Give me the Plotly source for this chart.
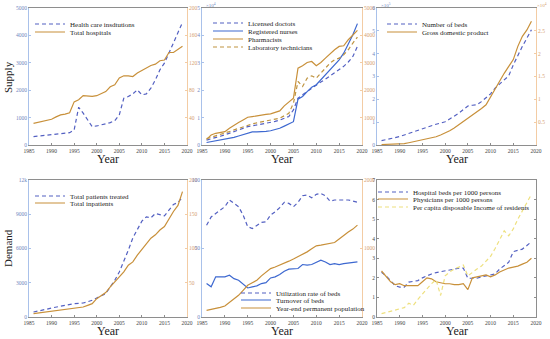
import plotly.graph_objects as go

# ---------------- data ----------------
years = list(range(1986, 2020))

# Panel 1: supply
health_care_institutions = [305, 320, 335, 350, 366, 380, 400, 425, 450, 550, 1378, 1160, 900, 670, 695,
                            730, 770, 817, 890, 1100, 1707, 1768, 1866, 2012, 1830, 1866, 2073, 2378,
                            2744, 2988, 3354, 3720, 4085, 4475]
total_hospitals = [31.7, 33, 35, 35.6, 37.6, 41, 44, 45, 47, 63, 66, 72, 71.5, 71, 72,
                   75, 78, 85, 88, 98, 101, 101, 100, 105, 109, 112, 116, 118,
                   123, 124, 135, 135, 139, 144]

# Panel 2
licensed_doctors = [0.18, 0.22, 0.27, 0.32, 0.37, 0.43, 0.49, 0.55, 0.61, 0.67, 0.70, 0.73, 0.76, 0.79, 0.82,
                    0.86, 0.91, 0.97, 1.04, 1.28, 1.71, 1.83, 1.95, 2.07, 2.2, 2.3, 2.4, 2.51,
                    2.62, 2.74, 2.87, 3.03, 3.23, 3.6]
registered_nurses = [0.09, 0.12, 0.15, 0.18, 0.21, 0.25, 0.28, 0.33, 0.38, 0.43, 0.48, 0.48, 0.48, 0.50, 0.52,
                     0.56, 0.61, 0.69, 0.77, 0.85, 1.67, 1.77, 1.95, 2.11, 2.2, 2.38, 2.56, 2.74,
                     2.93, 3.11, 3.35, 3.66, 4.02, 4.43]
pharmacists = [207, 366, 427, 460, 488, 610, 731, 820, 915, 1012, 1037, 1070, 1098, 1115, 1134,
               1190, 1244, 1427, 1585, 1707, 2805, 2890, 3012, 3049, 2890, 3012, 3171, 3329,
               3475, 3598, 3622, 3841, 4024, 4183]
lab_technicians = [232, 280, 330, 380, 427, 490, 550, 610, 670, 731, 770, 810, 850, 880, 915,
                   945, 976, 1060, 1159, 1524, 2317, 2134, 2439, 2524, 2439, 2622, 2805, 2988,
                   3110, 3171, 3293, 3476, 3720, 3939]

# Panel 3
number_of_beds = [0.19, 0.23, 0.28, 0.32, 0.37, 0.44, 0.51, 0.59, 0.66, 0.73, 0.79, 0.85, 0.91, 0.96, 1.02,
                  1.14, 1.26, 1.39, 1.55, 1.71, 1.74, 1.76, 1.9, 2.05, 2.24, 2.49, 2.68, 2.85,
                  3.03, 3.51, 3.95, 4.32, 4.68, 5.05]
gdp = [0.01, 0.012, 0.015, 0.018, 0.02, 0.03, 0.05, 0.07, 0.09, 0.11, 0.13, 0.15, 0.18, 0.22, 0.26,
       0.31, 0.37, 0.44, 0.51, 0.58, 0.66, 0.73, 0.80, 0.88, 1.06, 1.24, 1.39, 1.57,
       1.72, 1.87, 2.16, 2.38, 2.52, 2.71]

# Panel 4: demand
total_patients_treated = [439, 510, 585, 690, 790, 870, 950, 1023, 1100, 1170, 1200, 1228, 1340, 1462, 1667,
                          1842, 2047, 2632, 3216, 3947, 4825, 5848, 6930, 7602, 8392, 8772, 8684, 9064,
                          8977, 8860, 9357, 9855, 10030, 10500]
total_inpatients = [4.9, 5.8, 6.7, 7.5, 8.3, 9.0, 9.8, 10.8, 11.4, 12, 13.2, 14.6, 17, 19.5, 26.8,
                    30.7, 35.6, 43.9, 51.2, 58.5, 65.9, 75.6, 80.5, 90.2, 98.5, 107, 115, 120,
                    127, 132, 144, 154, 163, 183]

# Panel 5
utilization_rate = [67, 73, 75.6, 78, 80.5, 85.4, 82.9, 80.5, 74.4, 65.9, 64.6, 67, 69, 69.5, 74.4,
                    76.8, 79.8, 83.7, 82.9, 80.5, 83.7, 88.5, 89, 87, 89.5, 90.2, 88.5, 84.6,
                    85.4, 85.4, 85.4, 85.4, 84.6, 83.7]
turnover_of_beds = [24.4, 22, 29.3, 29.3, 29.3, 30.5, 28, 26.8, 23.7, 21.2, 22, 22.7, 24.4, 25.1, 28.5,
                    29.3, 31, 33.4, 34.9, 34.9, 35.4, 38.3, 37.8, 38.3, 40.2, 41.5, 40.2, 38.3,
                    39, 38.3, 39, 39.5, 39.8, 40.2]
population = [98, 110, 122, 140, 161, 210, 268, 317, 390, 463, 500, 537, 600, 659, 707,
              730, 756, 785, 815, 846, 878, 915, 951, 995, 1039, 1049, 1059, 1073,
              1088, 1140, 1195, 1240, 1283, 1341]

# Panel 6
beds_per_1000 = [2.29, 2.1, 1.86, 1.6, 1.53, 1.53, 1.78, 1.82, 1.86, 2.0, 2.12, 2.2, 2.27, 2.32, 2.37,
                 2.42, 2.46, 2.49, 2.5, 1.98, 1.98, 1.98, 2.05, 2.1, 2.15, 2.2, 2.45, 2.63,
                 2.8, 3.34, 3.4, 3.47, 3.65, 3.85]
physicians_per_1000 = [2.35, 2.1, 1.8, 1.65, 1.7, 1.6, 1.6, 1.6, 1.6, 1.8, 2.0, 1.95, 1.8, 1.75, 1.7,
                       1.7, 1.65, 1.65, 1.7, 1.4, 2.0, 2.05, 2.1, 2.15, 2.05, 2.15, 2.3, 2.4,
                       2.5, 2.55, 2.6, 2.7, 2.8, 3.0]
disposable_income = [0.17, 0.22, 0.3, 0.35, 0.42, 0.48, 0.7, 0.6, 0.9, 1.2, 1.44, 1.7, 1.9, 1.1, 2.1,
                     2.3, 2.45, 2.55, 2.66, 2.1, 2.3, 2.45, 2.6, 2.85, 3.1, 3.5, 3.95, 4.4,
                     4.15, 4.5, 5.0, 5.4, 5.85, 6.27]

year_ticks = [1985, 1990, 1995, 2000, 2005, 2010, 2015, 2020]

# ---------------- styling ----------------
W, H = 550, 339
FONT = "Liberation Serif"
BLUE_D = "#5360C2"
BLUE_S = "#3D68D0"
ORANGE = "#C8903A"
ORANGE_D = "#BF9440"
YELLOW_D = "#EEE07E"
AX_BLUE = "#A9C1EA"
AX_ORANGE = "#F3CCA4"
AX_GRAY = "#8E8E8E"
TXT_BLUE = "#6F86C0"
TXT_ORANGE = "#D6A070"
TICK_SIZE = 5.5

cols = [(29, 187), (202, 362), (377, 536)]
rows = [(8, 145), (180, 317)]

def xdom(c):
    return [c[0] / W, c[1] / W]

def ydom(r):
    return [1 - r[1] / H, 1 - r[0] / H]

fig = go.Figure()
layout = dict(width=W, height=H, margin=dict(l=0, r=0, t=0, b=0, autoexpand=False),
              paper_bgcolor="white", plot_bgcolor="white",
              font=dict(family=FONT, size=6, color="#444"), showlegend=True)

def ax_name(prefix, n):
    return prefix + ("" if n == 1 else str(n))

def setup_panel(p, left_range, left_ticks, right_range=None, right_ticks=None,
                left_color=AX_BLUE, left_txt=TXT_BLUE):
    r = rows[p // 3]
    c = cols[p % 3]
    xn = p + 1
    yl = 2 * p + 1
    yr = 2 * p + 2
    layout[ax_name("xaxis", xn)] = dict(
        domain=xdom(c), range=[1985, 2020], tickvals=year_ticks, anchor=ax_name("y", yl),
        showline=True, linecolor=AX_GRAY, linewidth=1, mirror=True, ticks="inside", ticklen=2,
        tickcolor=AX_GRAY, showgrid=False, zeroline=False,
        tickfont=dict(family=FONT, size=TICK_SIZE, color="#444"))
    ly = dict(domain=ydom(r), range=left_range, tickvals=left_ticks, anchor=ax_name("x", xn),
              showline=True, linecolor=left_color, linewidth=1, ticks="inside", ticklen=2,
              tickcolor=left_color, showgrid=False, zeroline=False,
              tickfont=dict(family=FONT, size=TICK_SIZE, color=left_txt))
    if right_range is None:
        ly["mirror"] = "ticks"
    layout[ax_name("yaxis", yl)] = ly
    if right_range is not None:
        layout[ax_name("yaxis", yr)] = dict(
            range=right_range, tickvals=right_ticks, anchor=ax_name("x", xn),
            overlaying=ax_name("y", yl), side="right",
            showline=True, linecolor=AX_ORANGE, linewidth=1, ticks="inside", ticklen=2,
            tickcolor=AX_ORANGE, showgrid=False, zeroline=False,
            tickfont=dict(family=FONT, size=TICK_SIZE, color=TXT_ORANGE))
    return ax_name("x", xn), ax_name("y", yl), ax_name("y", yr)

legend_count = [0]

def leg(text_x, y_center):
    return dict(x=(text_x - 45) / W, y=1 - y_center / H, xanchor="left", yanchor="middle",
                bgcolor="rgba(0,0,0,0)", borderwidth=0,
                font=dict(family=FONT, size=7, color="#222"), itemwidth=30)

def add(xa, ya, y, name, color, dash, text_x, y_center, width=1.2):
    legend_count[0] += 1
    lid = "legend" if legend_count[0] == 1 else "legend" + str(legend_count[0])
    layout[lid] = leg(text_x, y_center)
    fig.add_trace(go.Scatter(x=years, y=y, name=name, mode="lines", xaxis=xa, yaxis=ya,
                             line=dict(color=color, width=width, dash=dash), legend=lid))

DASH = "4px,3px"

# Panel 1
xa, yl, yr = setup_panel(0, [0, 5000], [0, 1000, 2000, 3000, 4000, 5000],
                         [0, 200], [40, 80, 120, 160, 200])
add(xa, yl, health_care_institutions, "Health care insdtutions", BLUE_D, DASH, 75, 24)
add(xa, yr, total_hospitals, "Total hospitals", ORANGE, "solid", 75, 32)

# Panel 2
xa, yl, yr = setup_panel(1, [0, 5], [0, 1, 2, 3, 4, 5],
                         [0, 5000], [1000, 2000, 3000, 4000, 5000])
add(xa, yl, licensed_doctors, "Licensed doctots", BLUE_D, DASH, 253, 23)
add(xa, yl, registered_nurses, "Registered nurses", BLUE_S, "solid", 253, 31)
add(xa, yr, pharmacists, "Pharmacists", ORANGE, "solid", 253, 39)
add(xa, yr, lab_technicians, "Laboratory technicians", ORANGE_D, DASH, 253, 47)

# Panel 3
xa, yl, yr = setup_panel(2, [0, 6], [0, 1, 2, 3, 4, 5, 6],
                         [0, 3], [0.5, 1, 1.5, 2, 2.5])
add(xa, yl, number_of_beds, "Number of beds", BLUE_D, DASH, 427, 24)
add(xa, yr, gdp, "Gross domestic product", ORANGE, "solid", 427, 32)

# Panel 4
xa, yl, yr = setup_panel(3, [0, 12000], [0, 3000, 6000, 9000, 12000],
                         [0, 200], [50, 100, 150, 200])
add(xa, yl, total_patients_treated, "Total patients treated", BLUE_D, DASH, 75, 196)
add(xa, yr, total_inpatients, "Total inpatients", ORANGE, "solid", 75, 203)

# Panel 5
xa, yl, yr = setup_panel(4, [0, 100], [0, 50, 100],
                         [0, 2000], [1000, 2000])
add(xa, yl, utilization_rate, "Utilization rate of beds", BLUE_D, DASH, 281, 293)
add(xa, yl, turnover_of_beds, "Turnover of beds", BLUE_S, "solid", 281, 300)
add(xa, yr, population, "Year-end permanent population", ORANGE, "solid", 281, 308)

# Panel 6
xa, yl, yr = setup_panel(5, [0, 7], [0, 1, 2, 3, 4, 5, 6, 7],
                         left_color=AX_GRAY, left_txt="#444")
add(xa, yl, beds_per_1000, "Hospital beds per 1000 persons", BLUE_D, DASH, 418, 192)
add(xa, yl, physicians_per_1000, "Physicians per 1000 persons", ORANGE, "solid", 418, 199)
add(xa, yl, disposable_income, "Per capita disposable Income of residents", YELLOW_D, DASH, 418, 207)

annotations = []
for c in cols:
    for r in rows:
        annotations.append(dict(text="Year", x=(c[0] + c[1]) / 2 / W, y=1 - (r[1] + 14) / H,
                                xref="paper", yref="paper", showarrow=False,
                                xanchor="center", yanchor="middle",
                                font=dict(family=FONT, size=12, color="#222")))
annotations.append(dict(text="Supply", x=8 / W, y=1 - 77 / H, xref="paper", yref="paper",
                        showarrow=False, textangle=-90, xanchor="center", yanchor="middle",
                        font=dict(family=FONT, size=11, color="#222")))
annotations.append(dict(text="Demand", x=8 / W, y=1 - 248 / H, xref="paper", yref="paper",
                        showarrow=False, textangle=-90, xanchor="center", yanchor="middle",
                        font=dict(family=FONT, size=11, color="#222")))
annotations.append(dict(text="×10<sup>4</sup>", x=204 / W, y=1 - 5 / H, xref="paper", yref="paper",
                        showarrow=False, xanchor="left", yanchor="middle",
                        font=dict(family=FONT, size=5, color=TXT_BLUE)))
annotations.append(dict(text="×10<sup>5</sup>", x=379 / W, y=1 - 5 / H, xref="paper", yref="paper",
                        showarrow=False, xanchor="left", yanchor="middle",
                        font=dict(family=FONT, size=5, color=TXT_BLUE)))
annotations.append(dict(text="×10<sup>4</sup>", x=549 / W, y=1 - 5 / H, xref="paper", yref="paper",
                        showarrow=False, xanchor="right", yanchor="middle",
                        font=dict(family=FONT, size=5, color=TXT_ORANGE)))
layout["annotations"] = annotations

fig.update_layout(**layout)
fig.write_html("out.html", config={"displayModeBar": False},
               post_script="document.body.style.margin='0';document.body.style.padding='0';")
